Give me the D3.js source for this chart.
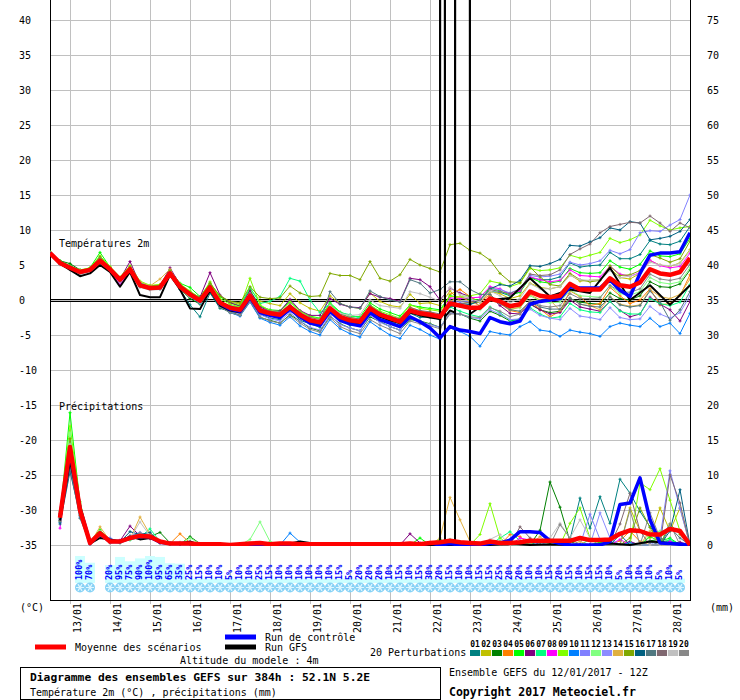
<!DOCTYPE html>
<html>
<head>
<meta charset="utf-8">
<script src="https://cdn.jsdelivr.net/npm/d3@7"></script>
<style>
    body { margin: 0; background: #fff; }
    svg  { display: block; font-family: "DejaVu Sans Mono", monospace; }
</style>
</head>
<body>
<svg id="chart" width="740" height="700"></svg>
<script>
'use strict';

/*
    Data
*/

// forecast steps, every 6h from 12/01 12Z up to 384h
const STEP_HOURS = d3.range(0, 385, 6);

const DAYS = ['13/01', '14/01', '15/01', '16/01', '17/01', '18/01', '19/01', '20/01',
              '21/01', '22/01', '23/01', '24/01', '25/01', '26/01', '27/01', '28/01'];

const TEMP_TICKS   = [40, 35, 30, 25, 20, 15, 10, 5, 0, -5, -10, -15, -20, -25, -30, -35];
const PRECIP_TICKS = [75, 70, 65, 60, 55, 50, 45, 40, 35, 30, 25, 20, 15, 10, 5, 0];

const PERT_LABELS = ['01', '02', '03', '04', '05', '06', '07', '08', '09', '10',
                     '11', '12', '13', '14', '15', '16', '17', '18', '19', '20'];

const PERT_COLORS = ['#008080', '#c0c000', '#008000', '#ff8000', '#00ff00',
                     '#800080', '#00ff80', '#ff00ff', '#80ff00', '#0080ff',
                     '#8080ff', '#80ff80', '#8c8cff', '#e0b040', '#80a800',
                     '#006080', '#507880', '#806870', '#c0c0c0', '#888888'];

// temperature 2m (°C)
const tMean = [6.7,5.3,4.6,4.0,4.3,5.6,4.4,2.9,4.4,2.1,1.7,1.8,3.8,1.9,0.8,-0.1,1.8,
    -0.4,-1.1,-1.4,0.6,-1.5,-1.9,-2.1,-1.0,-2.1,-2.9,-3.2,-1.2,-2.4,-2.9,-3.1,-1.2,-2.1,-2.6,-3.1,-1.5,-1.9,-2.1,-2.4,-0.5,
    -0.8,-1.1,-1.1,0.2,-0.2,-0.9,-0.6,1.2,0.6,0.4,0.6,2.3,1.5,1.5,1.5,3.1,2.1,1.9,2.5,4.4,3.8,3.6,4.0,6.0];

const tControl = [6.7,5.3,4.6,4.0,4.3,5.6,4.4,2.9,4.4,2.1,1.7,1.8,3.8,1.9,0.8,-0.1,1.7,
    -0.5,-1.3,-1.6,0.4,-1.8,-2.2,-2.5,-1.3,-2.4,-3.3,-3.6,-1.6,-2.9,-3.4,-3.7,-1.8,-2.8,-3.3,-3.8,-2.4,-3.1,-4.0,-5.4,-3.8,
    -4.3,-4.5,-4.8,-2.5,-3.1,-3.4,-3.0,-0.6,-0.2,0.0,0.2,1.9,1.7,1.7,1.7,2.9,1.4,0.5,3.8,6.4,6.7,6.7,6.9,9.6];

const t01 = [6.7,5.1,4.9,4.2,4.2,5.7,4.4,3.1,4.1,2.3,1.6,1.8,3.5,1.5,-0.7,-2.4,1.0,
    -1.2,-1.6,-2.2,0.1,-2.0,-2.6,-2.8,-1.2,-2.9,-3.4,-3.9,-1.6,-2.9,-3.6,-3.5,-1.6,-2.8,-3.0,-3.7,-1.9,-2.5,-2.4,-2.8,-0.6,
    -0.5,-0.6,-0.3,1.2,1.1,0.6,1.2,3.2,2.9,2.9,3.3,5.3,4.7,4.9,5.0,6.8,5.9,5.9,6.5,8.5,8.0,7.9,8.4,10.5];
const t02 = [6.8,5.5,4.5,4.1,4.5,5.9,4.6,3.2,4.6,2.3,2.0,2.2,4.0,2.2,1.2,0.2,2.3,
    0.5,-0.3,-0.6,1.6,-0.2,-0.5,-0.8,0.9,-0.4,-1.2,-1.6,0.6,-0.5,-1.0,-1.2,1.0,-0.2,-0.8,-1.0,0.8,-0.5,-0.4,-0.8,1.3,
    -0.2,-0.4,-0.3,1.2,0.9,0.2,0.6,2.4,1.8,1.6,1.9,3.6,2.7,2.8,2.9,4.5,3.2,3.0,3.8,5.6,5.0,4.8,5.3,7.2];
const t03 = [6.6,5.6,5.2,4.3,4.2,5.4,4.2,2.6,4.2,2.0,1.5,1.6,3.4,1.6,0.2,-0.6,1.2,
    -1.0,-1.8,-2.2,-0.2,-2.5,-2.9,-3.3,-2.1,-3.0,-4.0,-4.4,-2.3,-3.4,-4.0,-4.4,-2.4,-3.1,-3.8,-4.3,-2.8,-3.0,-3.4,-3.9,-1.9,
    -2.0,-2.6,-3.0,-1.6,-2.2,-3.0,-2.7,-0.6,-1.4,-1.8,-1.6,0.2,-0.3,-0.5,-0.6,1.0,0.2,0.0,0.6,2.6,1.9,1.8,2.3,4.3];
const t04 = [6.7,5.2,4.4,4.0,4.4,5.5,4.5,3.0,4.3,2.4,1.9,1.9,3.7,2.1,0.9,0.0,1.6,
    -0.2,-0.9,-1.5,0.8,-1.3,-2.0,-2.4,-0.8,-2.3,-3.0,-3.6,-1.4,-2.8,-3.3,-3.0,-1.0,-2.0,-2.8,-3.0,-1.0,-1.6,-1.8,-2.2,0.8,
    1.5,0.5,-0.3,0.8,-0.5,-1.5,-1.8,-0.2,-1.3,-2.4,-1.6,1.3,0.5,-0.8,-0.5,1.8,0.6,-0.5,0.0,1.6,-0.7,-0.5,0.6,3.6];
const t05 = [6.8,5.6,4.9,4.2,4.6,6.8,4.7,3.1,4.7,2.5,2.0,2.1,4.3,2.4,1.8,0.5,2.4,
    0.5,-0.4,-0.8,1.4,-0.9,-1.4,-1.5,-0.2,-1.6,-2.3,-2.6,-0.4,-1.7,-2.3,-2.4,-0.4,-1.3,-1.8,-2.3,-0.7,-1.0,-1.2,-1.4,0.6,
    0.4,0.1,0.0,1.8,1.3,0.7,1.1,3.2,2.6,2.4,2.7,4.5,3.9,3.8,3.9,5.6,4.7,4.4,5.1,7.0,6.3,6.2,6.6,8.8];
const t06 = [6.7,5.3,4.6,4.1,4.2,5.7,4.6,3.0,5.5,2.3,1.8,2.0,4.6,2.2,1.1,0.4,3.9,
    0.7,-0.4,-0.9,1.3,-1.0,-1.6,-1.6,0.1,-1.5,-2.2,-2.2,0.2,-0.6,-1.0,-1.1,0.9,0.4,0.2,-0.2,3.1,2.9,1.9,0.0,1.7,
    1.0,0.5,-1.0,0.5,-0.8,-1.9,-2.0,-0.5,-1.4,-2.0,-1.8,0.0,-1.0,-1.3,-1.6,-0.2,-1.5,-2.4,-2.0,0.4,-0.6,-1.4,-3.0,-0.2];
const t07 = [6.6,5.4,4.7,4.0,4.3,5.5,4.3,2.8,4.3,2.4,2.0,1.9,3.9,1.8,0.6,-0.4,1.5,
    -0.3,-0.8,-1.0,1.8,-0.5,-0.2,0.5,3.1,2.7,0.0,-1.8,-0.5,-1.8,-2.1,-2.6,-0.8,-1.7,-2.4,-2.9,-1.4,-1.9,-2.2,-2.8,-1.0,
    -1.6,-2.1,-2.4,-1.0,-1.8,-2.9,-2.8,-1.1,-2.0,-2.6,-2.4,-0.5,-1.4,-1.7,-1.8,-0.2,-1.6,-2.0,-2.0,0.2,-0.5,-0.8,-0.3,2.2];
const t08 = [6.5,5.2,4.5,3.9,4.1,5.4,4.3,2.2,4.2,2.0,1.7,1.7,3.6,1.8,0.7,-0.2,1.7,
    -0.6,-1.3,-1.6,0.4,-1.7,-2.1,-2.4,-1.2,-2.2,-3.2,-3.5,-1.3,-2.6,-3.1,-3.4,-1.5,-2.3,-2.8,-3.4,-1.8,-2.0,-2.3,-2.5,0.3,
    0.2,0.3,0.4,1.9,1.6,0.8,1.3,3.3,2.9,2.6,2.8,4.3,3.5,3.4,3.3,4.8,3.7,3.4,3.9,5.7,4.9,4.6,4.8,6.7];
const t09 = [6.9,5.5,4.8,4.3,4.6,6.3,4.8,3.3,4.9,2.7,2.1,2.2,4.2,2.3,1.3,0.3,2.6,
    0.2,-0.6,-1.0,3.1,-0.7,-1.5,-1.8,-0.3,-1.6,-2.4,-2.7,-0.6,-1.9,-2.5,-2.7,-0.7,-1.6,-2.1,-2.6,-0.7,-1.2,-1.4,-1.6,0.5,
    0.5,0.6,0.9,2.7,2.4,1.9,2.4,4.5,4.2,4.3,4.6,6.4,6.0,6.4,6.8,8.8,8.2,8.6,9.3,11.4,10.6,10.0,10.3,10.5];
const t10 = [6.6,5.2,4.5,3.8,4.1,5.3,4.2,2.7,4.1,1.9,1.5,1.6,3.5,1.6,0.5,-0.5,1.3,
    -0.9,-1.8,-2.3,-0.3,-2.6,-3.2,-3.6,-2.4,-3.7,-4.5,-5.0,-2.8,-4.1,-4.8,-5.3,-3.1,-4.1,-5.0,-5.5,-3.6,-4.2,-5.0,-5.6,-4.0,
    -4.5,-5.2,-6.6,-4.5,-4.8,-5.0,-3.8,-3.1,-4.3,-4.5,-5.2,-4.3,-4.6,-4.8,-5.2,-3.8,-3.3,-3.6,-3.8,-2.6,-3.8,-3.3,-4.8,-1.9];
const t11 = [6.7,5.3,4.7,4.0,4.3,5.8,4.5,2.9,4.5,2.2,1.8,1.9,3.9,2.0,0.9,0.0,1.9,
    -0.3,-1.0,-1.3,0.6,-1.4,-1.8,-2.0,-0.8,-2.0,-2.8,-3.1,-1.0,-2.3,-2.8,-3.0,-1.0,-1.9,-2.4,-2.9,-1.3,-1.7,-2.0,-2.2,-0.1,
    -0.3,-0.2,0.0,1.6,1.5,1.0,1.6,3.5,3.3,3.4,3.7,5.4,5.0,5.2,5.6,7.1,6.6,7.2,9.6,9.9,9.8,10.7,11.5,15.0];
const t12 = [6.7,5.4,4.7,4.1,4.4,5.7,4.5,3.0,4.5,2.2,1.8,1.9,3.9,2.0,0.9,0.0,1.9,
    -0.4,-1.1,-1.5,0.5,-1.6,-2.0,-2.2,-1.1,-2.3,-3.1,-3.4,-1.4,-2.6,-3.0,-3.3,-1.4,-2.3,-2.8,-3.2,-1.7,-2.0,-2.2,-2.5,-0.6,
    -0.9,-1.3,-1.4,0.0,-0.5,-1.3,-1.1,0.6,-0.1,-0.4,-0.3,1.4,0.6,0.5,0.4,2.0,0.9,0.7,1.2,3.2,2.5,2.3,2.6,4.6];
const t13 = [6.6,5.2,4.6,3.9,4.2,5.5,4.3,2.8,4.3,2.0,1.6,1.7,3.7,1.8,0.7,-0.2,1.7,
    -0.8,-1.6,-2.0,0.1,-2.1,-2.7,-3.0,-1.8,-3.0,-3.9,-4.3,-2.2,-3.5,-4.0,-4.4,-2.2,-3.2,-3.8,-4.3,-2.6,-3.1,-3.5,-3.9,-1.9,
    -2.0,-2.5,-2.7,-1.4,-2.0,-2.8,-2.7,-1.3,-2.2,-2.6,-2.8,-1.2,-2.3,-2.5,-2.8,-1.1,-2.5,-2.8,-2.7,-0.9,-2.0,-2.6,-1.8,0.6];
const t14 = [6.7,5.3,4.6,4.1,4.4,5.8,4.5,3.0,4.6,2.6,2.0,3.0,4.4,2.1,0.9,0.0,2.0,
    -0.5,-1.3,-1.6,0.4,-1.8,-2.2,-2.4,-1.3,-2.4,-3.1,-3.5,-1.4,-2.7,-3.2,-3.5,-1.5,-2.4,-2.9,-3.4,-1.8,-2.1,-2.3,-2.7,-0.2,
    0.5,-0.2,-0.8,0.6,-0.4,-1.4,-1.0,0.8,0.0,0.0,-1.5,0.3,-0.6,-0.8,-1.4,0.5,-0.6,-0.9,-0.7,1.5,0.5,0.2,0.8,3.0];
const t15 = [6.6,5.4,4.8,4.1,4.5,6.2,4.6,3.0,4.8,2.2,1.8,2.0,4.2,2.0,1.0,0.3,2.4,
    0.6,-0.2,-0.4,1.9,0.4,0.2,0.3,2.0,1.0,0.5,0.6,3.8,3.5,3.5,2.9,5.5,3.1,2.7,3.6,5.8,5.0,4.5,4.0,7.9,
    8.1,7.1,6.7,5.7,3.8,2.6,2.5,4.7,3.3,2.2,2.0,3.8,2.9,2.6,2.8,4.9,3.5,3.6,4.2,6.5,6.0,5.4,5.9,8.4];
const t16 = [6.6,5.3,4.5,4.0,4.2,5.5,4.3,2.8,4.3,2.0,1.6,1.7,3.6,1.7,0.6,-0.3,1.5,
    -0.6,-1.3,-1.7,0.3,-1.8,-2.2,-2.5,-1.3,-2.4,-3.2,-3.6,-1.5,-2.7,-3.2,-3.4,-1.5,-2.4,-2.9,-3.4,-1.8,-2.2,-2.4,-2.7,-0.9,
    -0.9,-0.6,-0.1,1.6,2.2,2.0,2.8,4.9,4.8,5.2,5.8,7.8,7.7,8.3,8.9,10.3,10.0,11.2,11.0,8.6,8.8,9.1,9.8,11.5];
const t17 = [6.7,5.2,4.5,4.0,4.3,5.6,4.4,2.9,4.4,2.1,1.7,1.8,3.8,1.9,0.7,-0.2,1.7,
    -0.5,-1.2,-1.5,0.5,-1.6,-2.0,-2.2,-1.1,-2.2,-3.0,-3.3,1.2,-0.5,-1.0,-1.2,1.3,0.5,0.0,-0.3,2.9,2.4,1.0,1.5,2.6,
    2.6,1.5,0.8,0.8,-0.5,-1.4,-1.6,-0.2,-1.0,-1.3,-1.3,0.3,-0.6,-0.9,-1.0,0.4,-0.7,-1.0,-0.8,1.3,-0.3,-2.9,-1.4,1.2];
const t18 = [6.8,5.4,4.7,4.1,4.4,5.9,4.5,3.1,4.6,2.4,1.9,2.0,4.0,2.1,1.0,0.1,2.1,
    -0.2,-0.9,-1.2,0.9,-1.2,-1.6,-1.8,-0.6,-1.8,-2.5,-2.8,-0.8,-2.0,-2.5,-2.7,-0.8,-1.8,-2.3,-2.7,-1.1,-1.5,-1.7,-2.0,-0.2,
    -0.6,-0.3,0.0,1.5,1.2,0.9,1.6,3.7,3.5,3.6,4.3,6.5,7.3,8.0,9.6,10.5,10.8,11.1,11.0,12.0,11.0,9.8,11.0,10.3];
const t19 = [6.5,5.0,4.3,3.7,4.0,5.3,4.1,2.6,4.1,1.8,1.4,1.5,3.4,1.6,0.5,-0.4,1.5,
    -0.8,-1.5,-1.8,0.2,-1.9,-2.3,-2.4,-1.1,-2.1,-2.8,-2.9,-0.8,-1.9,-2.2,-2.1,0.0,-0.8,-1.0,-1.2,1.2,0.9,0.4,-0.2,1.8,
    0.8,0.2,-0.3,1.3,0.6,-0.4,0.2,2.3,1.6,1.6,1.9,3.5,2.9,2.8,2.9,4.2,3.2,3.4,3.8,5.4,5.0,4.9,5.2,7.0];
const t20 = [6.6,5.1,4.4,3.8,4.1,5.4,4.2,2.7,4.2,1.9,1.5,1.6,3.5,1.7,0.6,-0.3,1.6,
    -1.0,-1.8,-2.2,-0.2,-2.4,-3.0,-3.3,-2.2,-3.3,-4.2,-4.6,-2.5,-3.8,-4.4,-4.8,-2.8,-3.6,-4.2,-4.8,-3.0,-3.4,-3.7,-4.1,-2.0,
    -2.0,-2.4,-2.5,-1.1,-1.6,-2.4,-2.0,-0.1,-0.8,-1.0,-0.8,0.9,0.2,0.2,0.3,2.1,1.2,1.1,1.6,3.7,3.0,2.8,3.1,5.1];

// precipitation per 6h (mm), no value at the start
const pMean = [null,3.9,14.0,5.0,0.3,1.7,0.5,0.5,1.0,1.3,1.2,0.5,0.2,0.2,0.2,0.1,0.1,
    0.1,0.0,0.1,0.2,0.3,0.1,0.2,0.2,0.1,0.1,0.1,0.1,0.1,0.1,0.1,0.1,0.1,0.1,0.1,0.2,0.1,0.3,0.4,0.6,
    0.4,0.3,0.2,0.5,0.3,0.3,0.4,0.6,0.6,0.6,0.6,0.6,1.0,0.7,0.7,0.8,1.6,2.1,2.0,1.5,1.5,2.3,2.0,0.0];

const pControl = [null,4.0,13.5,5.2,0.3,1.6,0.5,0.5,1.0,1.2,1.2,0.4,0.2,0.2,0.2,0.1,0,
    0,0,0,0,0,0,0,0, 0,0,0,0,0,0,0,0, 0,0,0,0,0,0.3,0,0.2,
    0,0,0,0.2,0.3,0.7,1.9,1.9, 1.8,0.6,0.2,0,0,0,0,0.5, 5.8,6.0,9.6,3.6,0.3,0.2,0.1,0];

const p01 = [null,3.5,12.5,5.5,0.2,1.5,0.4,0.6,0.9,1.4,1.0,0.3,0.1,0.3,0.1,0,0,
    0,0,0,0,0,0,0,0, 0,0,0,0,0,0,0,0, 0,0,0,0,0,0.3,0,0.5,
    0,0,0,0,0,0,0,0.3, 0,0,0,0.8,6.7,2.4,6.9,3.1, 9.4,7.4,4.8,2.6,1.0,0.5,0.3,0];
const p02 = [null,4.2,15.0,4.6,0.3,2.0,0.6,0.3,1.1,1.0,1.4,0.6,0.1,0.2,0.2,0,0.1,
    0,0,0,0,0,0,0,0, 0,0,0,0,0,0,0,0, 0,0,0,0,0,0,0,0.4,
    0,0,0,0,0.2,0,0,0, 0,0,0,0,0,0,0,0, 0,5.3,2.0,1.0,5.3,2.0,5.3,0];
const p03 = [null,3.8,14.5,5.2,0.4,1.6,0.7,0.5,1.3,1.7,1.2,1.8,0.3,0.1,1.2,0.2,0,
    0,0,0,0,0,0,0,0, 0,0,0,0,0,0,0,0, 0,0,0,0,0,0,0.3,0,
    0.5,0,0,0,0,0,0,0, 2.1,9.0,5.4,0.5,0,0,0,0, 0,0,0,0.6,0.8,0,0,0];
const p04 = [null,4.5,13.0,4.2,0.2,1.8,0.3,0.6,0.8,1.2,1.6,0.4,0.2,1.6,0.3,0.1,0,
    0,0,0,0,0,0,0,0, 0,0,0,0,0,0,0,0, 0,0,0,0,0,0.4,0.5,0,
    0,0.3,0,0,0,1.5,1.2,0, 0,0,0,0,0,0,0,0, 0.6,2.0,0.5,0,0,0,0,0];
const p05 = [null,4.0,18.9,6.0,0.5,2.2,0.4,0.4,1.0,1.5,1.1,0.5,0.1,0.2,0.1,0,0.1,
    0,0,0,0,0,0,0,0, 0,0,0,0,0,0,0,0, 0,0,0,0,1.0,0,0.8,0,
    0,0,0,0,0.5,0,0,0, 0,0,0,0,0,0,0.4,0, 0,0,0,1.2,0.5,1.0,0,0];
const p06 = [null,3.6,13.8,4.8,0.1,1.4,0.5,0.6,2.7,1.3,0.9,0.3,0.2,0.1,0.2,0,0,
    0,0,0,0,0,0,0,0, 0,0,0,0,0,0,0,0, 0,0,0,1.6,0.3,0,0,0,
    0,0,0,0,0,0,0,0, 0,0,0,0,0,0,0,0, 0,0.5,0,0,0,0,0.4,0];
const p07 = [null,4.8,15.5,5.5,0.3,1.9,0.9,0.5,0.7,1.1,2.3,0.5,0.1,0.3,0.3,0.1,0,
    0,0,0,0,0,0,0,0, 0,0,0,0,0,0,0,0, 0,0,0,0,0,0,0,0.8,
    0,0,0,0,1.0,1.9,0.6,0, 0,0,0,0,0,0.8,0,0.5, 0,0,0,0,0,0.8,0,0];
const p08 = [null,2.4,14.2,4.9,0.2,1.3,0.5,0.7,1.2,1.5,1.0,0.6,0.2,0.1,0.2,0,0,
    0,0,0,0,0,0,0,0, 0,0,0,0,0,0,0,0, 0,0,0,0,0,0,0,0,
    0,0,0,0,0,0,1.0,0.7, 0,0,0,0,0,0,0,0, 0.8,0,0,0,0,0.5,0,0];
const p09 = [null,4.3,17.0,6.2,0.4,1.7,0.6,0.5,1.0,1.2,1.3,0.4,0.1,0.2,0.4,0.1,0,
    0,0,0,0,0,0,0,0, 0,0,0,0,0,0,0,0, 0,0,0,0,0,0,0,0,
    0,0,1.5,5.9,1.0,0,0,0, 0,0,0,3.1,5.3,1.0,0,0, 0,0,8.9,7.9,10.9,6.4,2.0,0];
const p10 = [null,3.2,11.5,4.0,0.2,1.5,0.4,0.3,1.1,1.6,1.2,0.5,0.3,0.2,0.1,0,0,
    0,0,0,0,0,0,0,1.7, 0.4,0,0,0,0,0,0,0, 0,0,0,0,0,0,0,0,
    0,0,0,0,0,0,0.5,0.8, 0,0,0,0,0,0,0,0, 0,0.3,0,0,0,0,0,0];
const p11 = [null,3.9,14.8,5.3,0.3,1.2,1.0,0.4,0.9,1.4,1.1,0.5,0.2,0.3,0.2,0,0,
    0,0,0,0,0,0,0,0, 0,0,0,0,0,0,0,0, 0,0,0,0,0,0,0,0.5,
    0,0,0,0,0,0,0,0, 0,0,0,0,0,4.4,0.8,0, 0,0,0,0,1.0,10.6,5.2,0];
const p12 = [null,4.1,16.0,5.6,0.4,2.0,0.5,0.6,1.0,1.3,1.4,0.4,0.1,0.2,1.0,0.2,0,
    0,0,0,0.8,3.3,0.5,0,0, 0,0,0,0,0,0,0,0, 0,0,0,0,0,0,0,0,
    0,0,0,0,0.5,0,0,0, 0,0,0,0,0,0,0,0, 0,0,0,1.5,2.0,0,0,0];
const p13 = [null,3.7,13.5,4.5,0.3,1.6,0.3,0.5,1.3,1.8,1.2,0.6,0.2,0.2,0.2,0.1,0,
    0,0,0,0,0,0,0,0, 0,0,0,0,0,0,0,0, 0,0,0,0,0,0,0,0,
    0.5,0,0,0,0,0,0,0, 0,0.6,0,0,0,0,4.6,1.0, 0,0,0,0.5,0,0,0,0];
const p14 = [null,4.6,14.0,5.0,0.2,2.6,0.6,0.4,0.8,4.0,1.5,0.5,0.3,0.4,0.2,0,0,
    0,0,0,0,0,0,0,0, 0,0,0,0,0,0,0,0, 0,0,0,0,0,0,1.0,6.8,
    3.6,0.5,0,0,0,0,0,0, 1.2,0,0,0,0.5,0,0,0, 0,0,0,2.0,0,0,0,0];
const p15 = [null,3.4,15.2,5.7,0.5,1.8,0.5,0.6,1.1,1.2,1.0,0.5,0.2,0.2,0.3,0,0.1,
    0,0,0,0,0,0,0,0, 0,0,0,0,0,0,0,0, 0,0,0,0,0,0,0,0.6,
    0,0,0,0,0,0,0,0, 0,0,0,0,0,0,0,0, 0,1.0,5.3,2.5,0,3.0,1.5,0];
const p16 = [null,3.0,10.5,4.3,0.3,1.5,0.5,0.4,1.9,1.5,1.8,0.4,0.2,0.1,0.2,0,0,
    0,0,0,0,0,0,0,0, 0,0,0,0,0,0,0,0, 0,0,0,0,0,0,0,0,
    0,0,0,0,0,0,0,0, 0,0,0,0,0,0,0,0, 1.5,0,0,0,0,2.0,7.9,0];
const p17 = [null,3.3,11.0,3.8,0.2,1.4,0.4,0.5,1.0,1.0,1.1,0.5,0.1,0.2,0.1,0,0,
    0,0,0,0,0,0,0,0, 0,0,0,0,0,0,0,0, 0,0,0,0,0,0,0,0,
    0.4,0,0,0,0,0,0,0, 0,0,0,0,0,0,0,0, 0,0,0,0.5,0,2.5,1.0,0];
const p18 = [null,4.4,13.2,5.1,0.3,1.7,0.5,0.5,1.2,1.4,1.0,0.3,0.2,0.2,0.2,0.1,0,
    0,0,0,0,0,0,0,0, 0,0,0,0,0,0,0,0, 0,0,0,0,0,0,0,0,
    0,0,0,0,0,0,2.6,1.0, 0,0,0,0,0,0,0,0, 3.0,7.4,2.0,0,0,10.0,6.0,0];
const p19 = [null,3.9,14.4,5.4,0.4,1.9,0.6,0.5,0.9,3.3,1.3,0.6,0.2,0.3,0.2,0,0,
    0,0,0,0,0,0,0,0, 0,0,0,0,0,0,0,0, 0,0,0,0,0,0,0,0,
    0,0,0,0.8,1.5,0,0,0, 0,1.0,3.1,1.0,3.6,1.0,0,0, 0,0,0,0,0,0,0,0];
const p20 = [null,3.5,12.0,4.7,0.2,1.6,0.5,0.4,1.0,1.7,1.2,0.5,0.2,0.2,0.2,0,0,
    0,0,0,0,0,0,0,0, 0,0,0,0,0,0,0,0, 0,0,0,0,0,0,0,0,
    0,0,0,0,0,0.5,0,0, 0,0,2.9,1.0,0,0,0,0, 0,5.0,0,4.6,1.0,3.0,0,0];

// GFS run: own time steps, 12-hourly after 240h, with the broken values near 22/01
const GFS_HOURS = [0,6,12,18,24,30,36,42,48,54,60,66,72,78,84,90,96,102,108,114,
    120,126,132,138,144,150,156,162,168,174,180,186,192,198,204,210,216,222,228,234,
    235,236,237,240,243,244,251,252,264,276,288,300,312,324,336,348,360,372,384];
const GFS_TEMP = [6.7,5.2,4.3,3.4,3.8,5.0,4.0,1.9,4.0,0.7,0.4,0.4,3.6,1.5,-1.2,-1.3,1.4,-0.8,-1.5,-1.8,
    0.3,-1.8,-2.2,-2.4,-1.2,-2.3,-3.1,-3.5,-1.4,-2.6,-3.1,-3.4,-1.5,-2.4,-2.9,-3.3,-1.8,-2.2,-2.5,-2.7,
    999,999,-2.4,-1.5,-1.8,999,999,-2.0,0.0,0.3,3.1,0.5,1.5,1.0,4.6,0.0,2.1,-0.7,2.1];
const GFS_PRECIP = [null,3.5,12.0,5.5,0.2,1.0,0.8,0.5,1.2,0.8,1.0,0.5,0.2,0.2,0.5,0,0,0,0,0,
    0,0,0,0,0.2,0.5,0.3,0,0,0,0,0,0,0,0,0,0,0,0,0,
    999,999,0,0,0,999,999,0,0,0.2,0,0.1,0,0,0.2,0,0.5,0.3,0];

// precipitation probability (%) per step and height of the light bars
const PRECIP_PROB = [null,null,null,100,70,null,20,95,75,90,100,95,65,35,25,15,10,
    10,5,10,10,25,15,10,10,10,10,10,10,15,5,20,20,20,10,15,10,15,30,20,15,
    10,10,15,15,25,20,20,10,10,15,20,15,10,15,15,10,5,10,10,10,5,10,5,null];
const SNOW_BAR = [null,null,null,100,72,null,62,96,78,90,100,96,70,68,6,6,6,
    6,6,6,6,6,6,6,6,6,6,6,6,6,6,6,6,6,6,6,6,6,6,6,6,
    6,6,6,6,6,6,6,6,6,6,6,6,6,6,6,6,6,6,6,6,6,6,6,null];

/*
    Constants
*/

const CHART = d3.select('#chart');

const PLOT = Object.freeze({
    LEFT   : 50,
    RIGHT  : 690,
    TOP    : 0,
    BOTTOM : 600
});

const GRID_COLOR = '#c0c0c0';
const TEXT_SIZE  = 10;

const TEMP_MEMBERS   = [t01, t02, t03, t04, t05, t06, t07, t08, t09, t10,
                        t11, t12, t13, t14, t15, t16, t17, t18, t19, t20];
const PRECIP_MEMBERS = [p01, p02, p03, p04, p05, p06, p07, p08, p09, p10,
                        p11, p12, p13, p14, p15, p16, p17, p18, p19, p20];

/*
    Scales
*/

const xHour   = d3.scaleLinear().domain([0, 384]).range([PLOT.LEFT, PLOT.RIGHT]);
const yTemp   = d3.scaleLinear().domain([-35, 40]).range([545, 20]);
const yPrecip = d3.scaleLinear().domain([0, 75]).range([545, 20]);
const yBar    = d3.scaleLinear().domain([0, 100]).range([580, 556]);

/*
    Functions
*/

function toPoints(values, hours) {
    return values.map((v, i) => ({ h : hours[i], v : v }));
}

function drawSeries(layer, values, hours, yScale, color, width, markers) {
    const points = toPoints(values, hours).filter(d => d.v !== null);
    const line = d3.line()
                   .x(d => xHour(d.h))
                   .y(d => yScale(d.v));
    layer.append('path')
         .attr('d', line(points))
         .attr('fill', 'none')
         .attr('stroke', color)
         .attr('stroke-width', width)
         .attr('stroke-linejoin', 'round');
    if (markers) {
        const crosses = points.map(d => {
            const px = xHour(d.h), py = yScale(d.v);
            return `M${px - 1.5},${py}h3M${px},${py - 1.5}v3`;
        }).join('');
        layer.append('path')
             .attr('d', crosses)
             .attr('fill', 'none')
             .attr('stroke', color)
             .attr('stroke-width', 1);
    }
}

function drawGrid() {
    const grid = CHART.append('g').attr('shape-rendering', 'crispEdges');

    grid.selectAll('.hgrid')
        .data(TEMP_TICKS)
        .join('line')
          .attr('x1', PLOT.LEFT)
          .attr('x2', PLOT.RIGHT)
          .attr('y1', d => Math.round(yTemp(d)) + 0.5)
          .attr('y2', d => Math.round(yTemp(d)) + 0.5)
          .attr('stroke', GRID_COLOR);

    grid.selectAll('.vgrid')
        .data(DAYS)
        .join('line')
          .attr('x1', (d, i) => xHour(12 + 24 * i) + 0.5)
          .attr('x2', (d, i) => xHour(12 + 24 * i) + 0.5)
          .attr('y1', PLOT.TOP)
          .attr('y2', PLOT.BOTTOM + 4)
          .attr('stroke', GRID_COLOR);

    // frame
    grid.append('path')
        .attr('d', `M${PLOT.LEFT + 0.5},${PLOT.TOP}V${PLOT.BOTTOM + 0.5}H${PLOT.RIGHT + 0.5}V${PLOT.TOP}`)
        .attr('fill', 'none')
        .attr('stroke', '#000');

    // double line at 0 °C
    [-0.5, 1.5].forEach(off => {
        grid.append('line')
            .attr('x1', PLOT.LEFT)
            .attr('x2', PLOT.RIGHT)
            .attr('y1', yTemp(0) + off)
            .attr('y2', yTemp(0) + off)
            .attr('stroke', '#000');
    });
}

function drawAxes() {
    const axes = CHART.append('g')
                      .attr('font-size', TEXT_SIZE)
                      .attr('fill', '#000');

    axes.selectAll('.left')
        .data(TEMP_TICKS)
        .join('text')
          .attr('x', 19)
          .attr('y', d => yTemp(d))
          .attr('dy', '0.35em')
          .text(d => d);

    axes.selectAll('.right')
        .data(PRECIP_TICKS)
        .join('text')
          .attr('x', 707)
          .attr('y', d => yPrecip(d))
          .attr('dy', '0.35em')
          .text(d => d);

    axes.append('text').attr('x', 20).attr('y', 607).attr('dy', '0.35em').text('(°C)');
    axes.append('text').attr('x', 710).attr('y', 607).attr('dy', '0.35em').text('(mm)');

    axes.selectAll('.day')
        .data(DAYS)
        .join('text')
          .attr('transform', (d, i) => `translate(${xHour(12 + 24 * i) + 7.5},603) rotate(-90)`)
          .attr('text-anchor', 'end')
          .attr('dominant-baseline', 'central')
          .text(d => d);

    axes.append('text').attr('x', 59).attr('y', 243).attr('dy', '0.35em').text('Températures 2m');
    axes.append('text').attr('x', 59).attr('y', 406).attr('dy', '0.35em').text('Précipitations');
}

function drawProbabilities() {
    const rows = STEP_HOURS.map((h, i) => ({ h : h, pct : PRECIP_PROB[i], bar : SNOW_BAR[i] }))
                           .filter(d => d.pct !== null);
    const layer = CHART.append('g');

    layer.selectAll('rect')
         .data(rows)
         .join('rect')
           .attr('x', d => xHour(d.h) - 5)
           .attr('y', d => yBar(d.bar))
           .attr('width', 10)
           .attr('height', d => 583 - yBar(d.bar))
           .attr('fill', '#ccffff');

    const flakes = layer.selectAll('.flake')
                        .data(rows)
                        .join('g')
                          .attr('transform', d => `translate(${xHour(d.h)},587.5)`);
    flakes.append('circle')
          .attr('r', 5)
          .attr('fill', '#86d2f6');
    flakes.append('path')
          .attr('d', 'M-4,0H4M-2,-3.4L2,3.4M-2,3.4L2,-3.4')
          .attr('stroke', '#dff6ff')
          .attr('stroke-width', 1.2);

    layer.selectAll('.pct')
         .data(rows)
         .join('text')
           .attr('transform', d => `translate(${xHour(d.h) - 1},580) rotate(-90)`)
           .attr('dominant-baseline', 'central')
           .attr('font-size', 8.5)
           .attr('font-weight', 'bold')
           .attr('fill', '#0000ff')
           .text(d => `${d.pct}%`);
}

function drawRuns() {
    CHART.append('clipPath')
         .attr('id', 'plot-clip')
         .append('rect')
           .attr('x', PLOT.LEFT)
           .attr('y', PLOT.TOP)
           .attr('width', PLOT.RIGHT - PLOT.LEFT)
           .attr('height', 546);

    const runs = CHART.append('g').attr('clip-path', 'url(#plot-clip)');

    TEMP_MEMBERS.forEach((values, i) => drawSeries(runs, values, STEP_HOURS, yTemp, PERT_COLORS[i], 1, true));
    PRECIP_MEMBERS.forEach((values, i) => drawSeries(runs, values, STEP_HOURS, yPrecip, PERT_COLORS[i], 1, true));

    drawSeries(runs, GFS_TEMP,   GFS_HOURS, yTemp,   '#000', 2, false);
    drawSeries(runs, GFS_PRECIP, GFS_HOURS, yPrecip, '#000', 2, false);

    drawSeries(runs, tControl, STEP_HOURS, yTemp,   '#0000ff', 3.5, false);
    drawSeries(runs, pControl, STEP_HOURS, yPrecip, '#0000ff', 3.5, false);

    drawSeries(runs, tMean, STEP_HOURS, yTemp,   '#ff0000', 4.5, false);
    drawSeries(runs, pMean, STEP_HOURS, yPrecip, '#ff0000', 4.5, false);
}

function drawLegend() {
    const legend = CHART.append('g')
                        .attr('font-size', TEXT_SIZE)
                        .attr('fill', '#000');

    const keys = [
        { x : 35,  y : 647, color : '#ff0000', label : 'Moyenne des scénarios', tx : 75 },
        { x : 225, y : 637, color : '#0000ff', label : 'Run de contrôle',      tx : 265 },
        { x : 225, y : 647, color : '#000',    label : 'Run GFS',              tx : 265 }
    ];
    keys.forEach(k => {
        legend.append('rect')
              .attr('x', k.x).attr('y', k.y - 2.5)
              .attr('width', 31).attr('height', 5)
              .attr('fill', k.color);
        legend.append('text')
              .attr('x', k.tx).attr('y', k.y)
              .attr('dy', '0.35em')
              .text(k.label);
    });

    legend.append('text').attr('x', 180).attr('y', 660).attr('dy', '0.35em').text('Altitude du modele : 4m');
    legend.append('text').attr('x', 370).attr('y', 652).attr('dy', '0.35em').text('20 Perturbations');

    const swatch = d3.scaleBand().domain(PERT_LABELS).range([470, 689]).paddingInner(0.08);
    legend.selectAll('.sw')
          .data(PERT_LABELS)
          .join('rect')
            .attr('x', d => swatch(d))
            .attr('y', 650)
            .attr('width', swatch.bandwidth())
            .attr('height', 6)
            .attr('fill', (d, i) => PERT_COLORS[i]);
    legend.selectAll('.swl')
          .data(PERT_LABELS)
          .join('text')
            .attr('x', d => swatch(d) + swatch.bandwidth() / 2)
            .attr('y', 644)
            .attr('dy', '0.35em')
            .attr('text-anchor', 'middle')
            .attr('font-size', 8)
            .attr('font-weight', 'bold')
            .text(d => d);

    // title box
    legend.append('rect')
          .attr('x', 20.5).attr('y', 667.5)
          .attr('width', 420).attr('height', 32)
          .attr('fill', 'none')
          .attr('stroke', '#000');
    legend.append('text')
          .attr('x', 30).attr('y', 677).attr('dy', '0.35em')
          .attr('font-size', 11.3)
          .attr('font-weight', 'bold')
          .text('Diagramme des ensembles GEFS sur 384h : 52.1N 5.2E');
    legend.append('text')
          .attr('x', 30).attr('y', 692).attr('dy', '0.35em')
          .text('Température 2m (°C) , précipitations (mm)');

    legend.append('text').attr('x', 449).attr('y', 672).attr('dy', '0.35em').text('Ensemble GEFS du 12/01/2017 - 12Z');
    legend.append('text')
          .attr('x', 449).attr('y', 692).attr('dy', '0.35em')
          .attr('font-size', 11.5)
          .attr('font-weight', 'bold')
          .text('Copyright 2017 Meteociel.fr');
}

/*
    D3 code
*/

drawGrid();
drawProbabilities();
drawRuns();
drawAxes();
drawLegend();
</script>
</body>
</html>
